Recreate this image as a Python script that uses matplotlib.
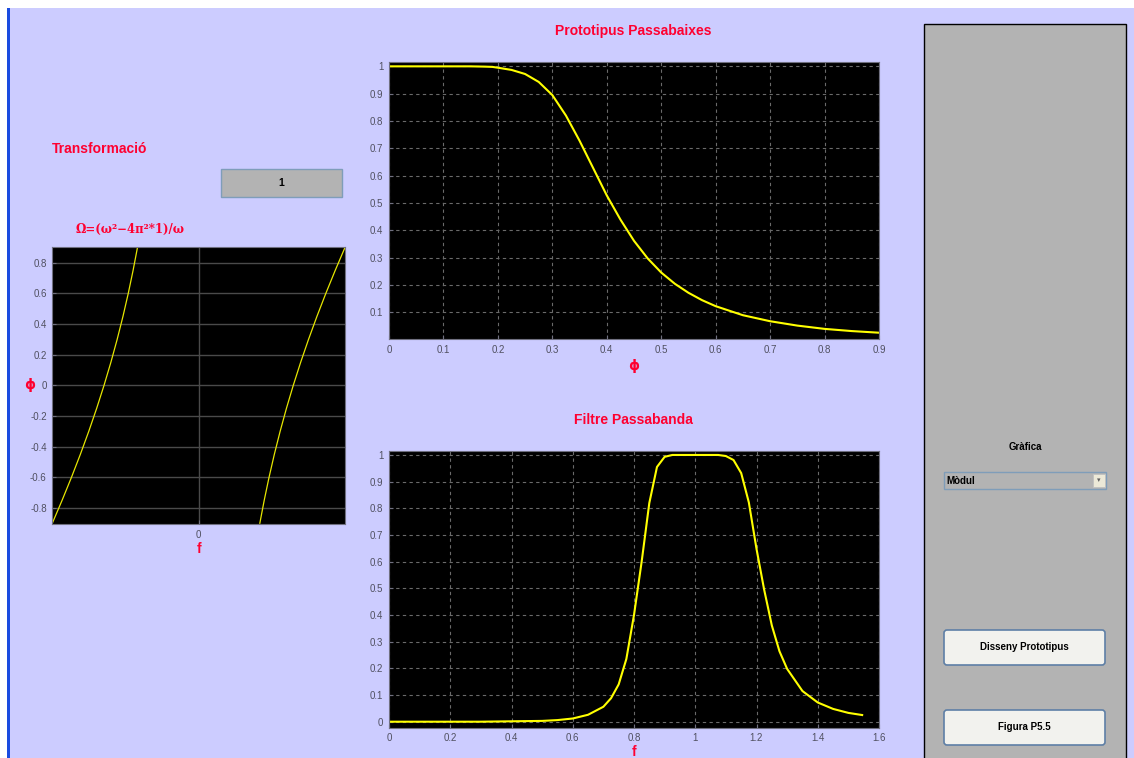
import matplotlib
matplotlib.use("Agg")
import matplotlib.pyplot as plt
from matplotlib.patches import Rectangle, FancyBboxPatch

plt.rcParams['font.family'] = ['Liberation Sans', 'DejaVu Sans']

# ---- data ----
# left plot: transformation phi -> f (two branches)
trans_phi = [-0.9, -0.75, -0.6, -0.45, -0.3, -0.15, 0.0, 0.15, 0.3, 0.45, 0.6, 0.75, 0.9]
trans_f_neg = [-1.5466, -1.4430, -1.3440, -1.25, -1.1612, -1.0778, -1.0,
               -0.9278, -0.8612, -0.80, -0.7440, -0.6930, -0.6466]
trans_f_pos = [0.6466, 0.6930, 0.7440, 0.80, 0.8612, 0.9278, 1.0,
               1.0778, 1.1612, 1.25, 1.3440, 1.4430, 1.5466]

# low-pass prototype magnitude
lp_phi = [0.0, 0.1, 0.15, 0.175, 0.19, 0.2, 0.225, 0.25, 0.275, 0.3, 0.325, 0.35,
          0.375, 0.4, 0.425, 0.45, 0.475, 0.5, 0.525, 0.55, 0.575, 0.6, 0.65, 0.7,
          0.75, 0.8, 0.85, 0.9]
lp_mag = [1.0, 1.0, 1.0, 0.999, 0.998, 0.995, 0.987, 0.972, 0.943, 0.895, 0.820,
          0.728, 0.628, 0.528, 0.440, 0.362, 0.298, 0.246, 0.205, 0.172, 0.145,
          0.123, 0.090, 0.068, 0.052, 0.040, 0.032, 0.026]

# band-pass filter magnitude
bp_f = [0.0, 0.3, 0.5, 0.55, 0.6, 0.65, 0.7, 0.725, 0.75, 0.775, 0.8, 0.825,
        0.85, 0.875, 0.9, 0.925, 1.0, 1.075, 1.1, 1.125, 1.15, 1.175, 1.2, 1.225,
        1.25, 1.275, 1.3, 1.35, 1.4, 1.45, 1.5, 1.545]
bp_mag = [0.0, 0.0, 0.003, 0.006, 0.012, 0.026, 0.056, 0.088, 0.14, 0.235, 0.40,
          0.60, 0.82, 0.955, 0.993, 1.0, 1.0, 1.0, 0.996, 0.981, 0.932, 0.822,
          0.648, 0.495, 0.361, 0.264, 0.198, 0.115, 0.072, 0.048, 0.033, 0.025]

lp_xticks = [0, 0.1, 0.2, 0.3, 0.4, 0.5, 0.6, 0.7, 0.8, 0.9]
lp_yticks = [0.1, 0.2, 0.3, 0.4, 0.5, 0.6, 0.7, 0.8, 0.9, 1]
bp_xticks = [0, 0.2, 0.4, 0.6, 0.8, 1, 1.2, 1.4, 1.6]
bp_yticks = [0, 0.1, 0.2, 0.3, 0.4, 0.5, 0.6, 0.7, 0.8, 0.9, 1]
tr_yticks = [-0.8, -0.6, -0.4, -0.2, 0, 0.2, 0.4, 0.6, 0.8]

W, H = 1134, 758
RED = '#FF0030'
LAV = '#CCCCFF'
GRAY = '#B3B3B3'
TICKC = '#505060'

fig = plt.figure(figsize=(W / 100, H / 100), dpi=100, facecolor='white')

# background "GUI" layer in pixel coordinates
bg = fig.add_axes([0, 0, 1, 1], zorder=-1)
bg.set_xlim(0, W)
bg.set_ylim(H, 0)
bg.axis('off')
bg.add_patch(Rectangle((7, 8), W - 7, H - 8, fc=LAV, ec='none'))
bg.add_patch(Rectangle((7, 8), 3, H - 8, fc='#1A4BE0', ec='none'))
bg.add_patch(Rectangle((924, 24), 202, H, fc=GRAY, ec='black', lw=1))

bg.text(52, 149, 'Transformació', color=RED, fontsize=10, fontweight='bold', va='center')
bg.add_patch(Rectangle((221, 169), 121, 28, fc=GRAY, ec='#7F9DB9', lw=1))
bg.text(281.5, 183, '1', fontsize=7.5, fontweight='bold', ha='center', va='center')
bg.text(130, 229, 'Ω=(ω²−4π²*1)/ω', color=RED, fontsize=8.5, fontweight='bold',
        ha='center', va='center', family=['DejaVu Serif'])

bg.text(633, 31, 'Prototipus Passabaixes', color=RED, fontsize=10, fontweight='bold',
        ha='center', va='center')
bg.text(633, 420, 'Filtre Passabanda', color=RED, fontsize=10, fontweight='bold',
        ha='center', va='center')

# right control panel
bg.text(1025, 447, 'Gràfica', fontsize=7, fontweight='bold', ha='center', va='center')
bg.add_patch(Rectangle((944, 472), 162, 17, fc=GRAY, ec='#7F9DB9', lw=1))
bg.text(946, 480.5, 'Mòdul', fontsize=7, fontweight='bold', va='center')
bg.add_patch(Rectangle((1093, 474), 12, 13, fc='#ECE9D8', ec='#C0C0C0', lw=0.6))
bg.text(1099, 480.5, '▾', fontsize=5, color='#606060', ha='center', va='center')
for y0, label in [(630, 'Disseny Prototipus'), (710, 'Figura P5.5')]:
    bg.add_patch(FancyBboxPatch((944, y0), 161, 35, boxstyle='round,pad=0,rounding_size=3',
                                fc='#F2F2EE', ec='#5E7FA6', lw=1.2))
    bg.text(1024.5, y0 + 17.5, label, fontsize=7, fontweight='bold', ha='center', va='center')


def px_axes(x0, y0, x1, y1):
    return fig.add_axes([x0 / W, (H - y1) / H, (x1 - x0) / W, (y1 - y0) / H])


def style(ax):
    ax.set_facecolor('black')
    for s in ax.spines.values():
        s.set_color('#707080')
    ax.tick_params(direction='in', length=3, colors='#707080', labelcolor=TICKC,
                   labelsize=7, pad=4)


# transformation plot
ax1 = px_axes(52.3, 246.7, 345, 524)
style(ax1)
ax1.plot(trans_f_neg, trans_phi, color='#E6E600', lw=0.9)
ax1.plot(trans_f_pos, trans_phi, color='#E6E600', lw=0.9)
ax1.set_xlim(-1.5467, 1.5467)
ax1.set_ylim(-0.905, 0.905)
ax1.set_xticks([0])
ax1.set_yticks(tr_yticks)
ax1.set_yticklabels([f'{v:g}' for v in tr_yticks])
ax1.grid(True, color='#4A4A4A', lw=1, ls='-')
ax1.set_axisbelow(True)
ax1.set_xlabel('f', color=RED, fontsize=10, fontweight='bold', labelpad=2)
ax1.set_ylabel('ϕ', color=RED, fontsize=10, fontweight='bold', rotation=0,
               labelpad=-4, va='center', ha='right', family=['DejaVu Sans'])

# low-pass prototype
ax2 = px_axes(389, 61.7, 879, 339)
style(ax2)
ax2.plot(lp_phi, lp_mag, color='#FFFF00', lw=1.5)
ax2.set_xlim(0, 0.9)
ax2.set_ylim(0.003, 1.017)
ax2.set_xticks(lp_xticks)
ax2.set_xticklabels([f'{v:g}' for v in lp_xticks])
ax2.set_yticks(lp_yticks)
ax2.set_yticklabels([f'{v:g}' for v in lp_yticks])
ax2.grid(True, color='#6A6A6A', lw=0.8, ls=(0, (3, 3)))
ax2.set_axisbelow(True)
ax2.set_xlabel('ϕ', color=RED, fontsize=10, fontweight='bold', labelpad=3,
               family=['DejaVu Sans'])

# band-pass filter
ax3 = px_axes(389, 450.7, 879, 727.7)
style(ax3)
ax3.plot(bp_f, bp_mag, color='#FFFF00', lw=1.5)
ax3.set_xlim(0, 1.6)
ax3.set_ylim(-0.0225, 1.016)
ax3.set_xticks(bp_xticks)
ax3.set_xticklabels([f'{v:g}' for v in bp_xticks])
ax3.set_yticks(bp_yticks)
ax3.set_yticklabels([f'{v:g}' for v in bp_yticks])
ax3.grid(True, color='#6A6A6A', lw=0.8, ls=(0, (3, 3)))
ax3.set_axisbelow(True)
ax3.set_xlabel('f', color=RED, fontsize=10, fontweight='bold', labelpad=1)

fig.savefig('out.png', dpi=100, facecolor=fig.get_facecolor())
